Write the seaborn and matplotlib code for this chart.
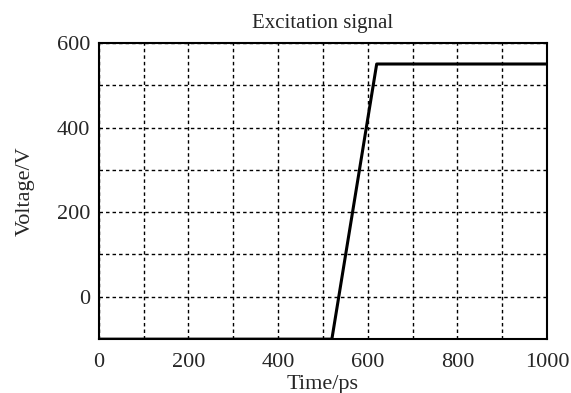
import numpy as np
import pandas as pd
import matplotlib
matplotlib.use("Agg")
import matplotlib.pyplot as plt
import seaborn as sns
from matplotlib.ticker import MultipleLocator

# Excitation signal: ramp from -100 V to 550 V
time_ps = [0, 520, 620, 1000]
voltage_v = [-100, -100, 550, 550]

sns.set_style("white")
plt.rcParams['font.family'] = ['Liberation Serif', 'DejaVu Serif']

df = pd.DataFrame({"Time/ps": time_ps, "Voltage/V": voltage_v})

fig = plt.figure(figsize=(5.71, 3.93), dpi=100)
ax = fig.add_axes([0.173, 0.137, 0.785, 0.754])

sns.lineplot(data=df, x="Time/ps", y="Voltage/V", color="black", linewidth=2.2, ax=ax)

ax.set_xlim(0, 1000)
ax.set_ylim(-100, 600)
ax.xaxis.set_major_locator(MultipleLocator(200))
ax.xaxis.set_minor_locator(MultipleLocator(100))
ax.set_yticks([0, 200, 400, 600])
ax.yaxis.set_minor_locator(MultipleLocator(100))

ax.grid(True, which="both", color="black", linestyle=(0, (2.5, 2.2)), linewidth=1)
ax.tick_params(which="both", length=0, labelsize=16)
ax.tick_params(axis="x", pad=10)
ax.tick_params(axis="y", pad=6)

for s in ax.spines.values():
    s.set_color("black")
    s.set_linewidth(1.5)

ax.set_title("Excitation signal", fontsize=15, pad=11)
ax.set_xlabel("Time/ps", fontsize=16, labelpad=2)
ax.set_ylabel("Voltage/V", fontsize=16, labelpad=16)

fig.savefig("out.png", dpi=100)
